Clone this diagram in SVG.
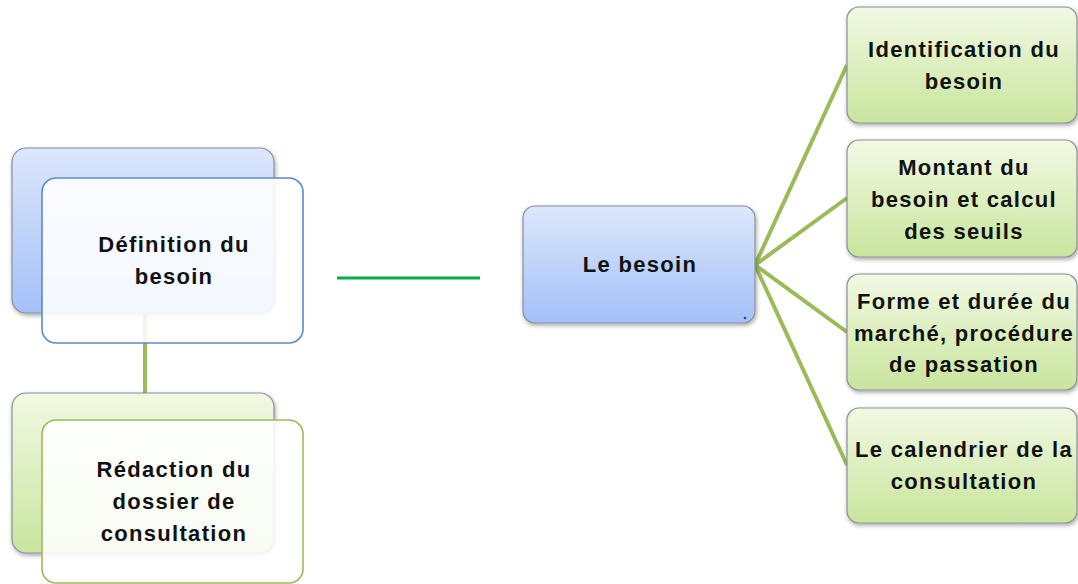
<svg xmlns="http://www.w3.org/2000/svg" width="1078" height="584" viewBox="0 0 1078 584">
<style>
text{font-family:"Liberation Sans",Arial,sans-serif;font-weight:bold;font-size:22px;letter-spacing:1.3px;fill:#111;text-anchor:middle}
.blue{fill:url(#gb);stroke:#8a8f99;stroke-width:1.2}
.green{fill:url(#gg);stroke:#8a8f99;stroke-width:1.2}
.fb{fill:#fff;fill-opacity:0.88;stroke:#5a8acb;stroke-width:1.6}
.fg{fill:#fff;fill-opacity:0.88;stroke:#9bbb59;stroke-width:1.6}
.con{stroke:#9bbb59;stroke-width:4;fill:none}
</style>
<defs>
<linearGradient id="gb" x1="0" y1="0" x2="0" y2="1"><stop offset="0" stop-color="#dce7fb"/><stop offset="1" stop-color="#a3c0f8"/></linearGradient>
<linearGradient id="gg" x1="0" y1="0" x2="0" y2="1"><stop offset="0" stop-color="#f1f9e3"/><stop offset="1" stop-color="#c9e59d"/></linearGradient>
<filter id="sh" x="-10%" y="-10%" width="125%" height="130%"><feDropShadow dx="1" dy="2" stdDeviation="2" flood-color="#000" flood-opacity="0.35"/></filter>
</defs>
<g id="connectors">
<line x1="145" y1="312" x2="145" y2="394" class="con"/>
<line x1="337" y1="278" x2="480" y2="278" stroke="#00b050" stroke-width="3"/>
<line x1="755" y1="265" x2="847" y2="65" class="con"/>
<line x1="755" y1="265" x2="847" y2="198" class="con"/>
<line x1="755" y1="265" x2="847" y2="332" class="con"/>
<line x1="755" y1="265" x2="847" y2="465" class="con"/>
</g>
<g id="definition">
<rect x="12" y="148" width="262" height="165" rx="14" class="blue" filter="url(#sh)"/>
<rect x="42" y="178" width="261" height="165" rx="14" class="fb"/>
<text x="174" y="252">Définition du</text>
<text x="174" y="284">besoin</text>
</g>
<g id="redaction">
<rect x="12" y="393" width="262" height="160" rx="14" class="green" filter="url(#sh)"/>
<rect x="42" y="420" width="261" height="163" rx="14" class="fg"/>
<text x="174" y="477">Rédaction du</text>
<text x="174" y="509">dossier de</text>
<text x="174" y="541">consultation</text>
</g>
<g id="besoin">
<rect x="523" y="206" width="232" height="117" rx="12" class="blue" filter="url(#sh)"/>
<circle cx="745" cy="318" r="1.3" fill="#1a3cff"/>
<text x="640" y="272">Le besoin</text>
</g>
<g id="identification">
<rect x="847" y="7" width="230" height="116" rx="12" class="green" filter="url(#sh)"/>
<text x="964" y="57">Identification du</text>
<text x="964" y="89">besoin</text>
</g>
<g id="montant">
<rect x="847" y="140" width="230" height="117" rx="12" class="green" filter="url(#sh)"/>
<text x="964" y="175">Montant du</text>
<text x="964" y="207">besoin et calcul</text>
<text x="964" y="239">des seuils</text>
</g>
<g id="forme">
<rect x="847" y="274" width="230" height="116" rx="12" class="green" filter="url(#sh)"/>
<text x="964" y="309">Forme et durée du</text>
<text x="964" y="341">marché, procédure</text>
<text x="964" y="372">de passation</text>
</g>
<g id="calendrier">
<rect x="847" y="408" width="230" height="115" rx="12" class="green" filter="url(#sh)"/>
<text x="964" y="457">Le calendrier de la</text>
<text x="964" y="489">consultation</text>
</g>
</svg>
